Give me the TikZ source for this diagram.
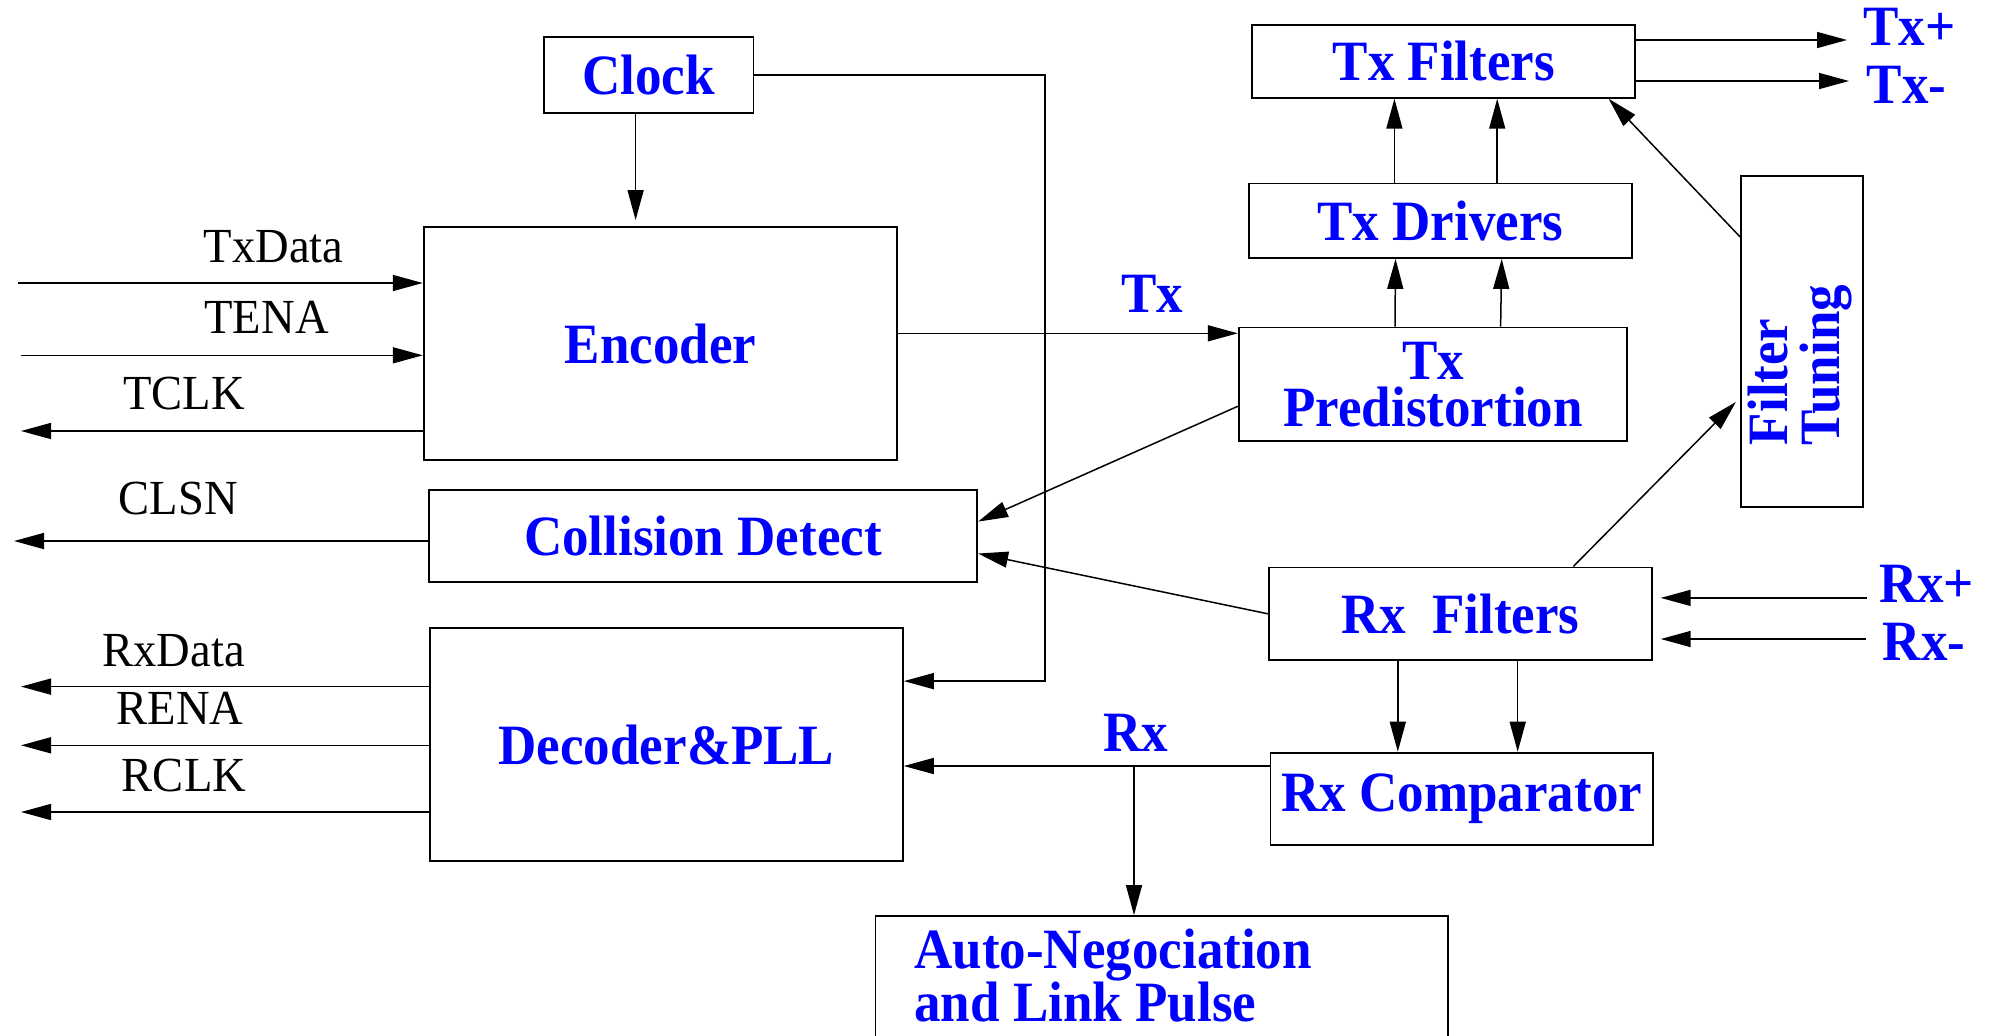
\documentclass[tikz,border=0pt]{standalone}
\usepackage{fontspec}
\setmainfont{Liberation Serif}
\newfontfamily\blkfont[FakeStretch=0.93]{Liberation Serif}
\newfontfamily\sigfont[FakeStretch=0.95]{Liberation Serif}
\usetikzlibrary{arrows.meta}

\tikzset{
  blk/.style={draw=black, line width=0.9pt, inner sep=0pt},
  % a block given by its corners (x1,y1) and (x2,y2), in picture units
  span/.style args={#1,#2,#3,#4}{
    minimum width={(#3-#1)*0.5pt}, minimum height={(#4-#2)*0.5pt},
    at={({(#1+#3)/2},{(#2+#4)/2})}},
  blab/.style={text=blue, font=\blkfont\bfseries\fontsize{28.5}{26}\selectfont, inner sep=0pt},
  slab/.style={text=black, font=\sigfont\fontsize{24.5}{28}\selectfont, inner sep=0pt},
  conn/.style={line width=0.75pt, -{Triangle[length=15pt,width=8pt]}},
}

\begin{document}
\begin{tikzpicture}[x=0.5pt,y=-0.5pt]
\useasboundingbox (0,0) rectangle (1991,1035);
\clip (0,0) rectangle (1991,1035);
\fill[white] (0,0) rectangle (1991,1035);

% ---- blocks ----
\node[blk, blab, span={543.7,37,753.4,113}] (clock) {Clock};
\node[blk, blab, span={423.7,227,897.2,460}] (enc) {Encoder};
\node[blk, blab, span={428.6,489.7,977.2,581.7}] (col) {Collision Detect};
\node[blk, blab, span={430,628.3,902.9,861.2}] (dec) {Decoder\&PLL};
\node[blk, blab, span={1252.3,24.8,1635.3,97.8}] (fil) {Tx Filters};
\node[blk, blab, span={1248.9,183.5,1631.9,258}] (drv) {Tx Drivers};
\node[blk, blab, span={1238.7,327.5,1627.3,440.8}, align=center,
      font=\blkfont\bfseries\fontsize{28.5}{23.5}\selectfont] (pre) {Tx\\Predistortion};
\node[blk, span={1741,176.3,1863.2,506.9}] (ft) {};
\node[blab, rotate=90, align=left] (ftlbl) at (1800,365) {Filter\\Tuning};
\node[blk, blab, span={1268.8,567.4,1651.8,660.2}] (rxf) {Rx\ \ Filters};
\node[blk, blab, span={1270.5,752.6,1652.9,844.6}] (cmp) {Rx Comparator};
\node[blk, span={875.5,916,1447.8,1080}] (auto) {};
\node[blab, align=left, anchor=north west,
      font=\blkfont\bfseries\fontsize{28.5}{26.5}\selectfont] (autolbl) at (914,929)
      {Auto-Negociation\\and Link Pulse};

% ---- signal names ----
\node[slab] (txdl)  at (273.6,247)   {TxData};
\node[slab] (tenal) at (266.6,317.5) {TENA};
\node[slab] (tclkl) at (184,393.7)   {TCLK};
\node[slab] (clsnl) at (178.2,498.9) {CLSN};
\node[slab] (rxdl)  at (173.6,650.7) {RxData};
\node[slab] (renal) at (180,708.5)   {RENA};
\node[slab] (rclkl) at (184,775.4)   {RCLK};
\node[blab] (txl)  at (1152.5,293.6) {Tx};
\node[blab] (rxl)  at (1135.5,733)   {Rx};
\node[blab] (txpl) at (1909.5,26.7)  {Tx+};
\node[blab] (txml) at (1906.5,85)    {Tx-};
\node[blab] (rxpl) at (1926.5,583.5) {Rx+};
\node[blab] (rxml) at (1924,642)     {Rx-};

% ---- free ends of the port lines ----
\coordinate (txdS)  at (17.5,283);
\coordinate (tenaS) at (21,355.3);
\coordinate (tclkE) at (21,431);
\coordinate (clsnE) at (14,541);
\coordinate (rxdE)  at (21,686.6);
\coordinate (renaE) at (21,745.3);
\coordinate (rclkE) at (21,812);
\coordinate (txpE)  at (1847,40);
\coordinate (txmE)  at (1849,81);
\coordinate (rxpS)  at (1867,597.9);
\coordinate (rxmS)  at (1865.5,639);
\coordinate (clkbus) at (1045.2,681.1);
\coordinate (rxtap) at (1134,766);

% ---- connectors ----
\draw[conn, shorten >=3pt] (clock.south -| 635.6,0) -- (enc.north -| 635.6,0);
\draw[conn] (clock.east) -| (clkbus) -- (dec.east |- clkbus);

\draw[conn] (txdS) -- (enc.west |- txdS);
\draw[conn] (tenaS) -- (enc.west |- tenaS);
\draw[conn] (enc.west |- tclkE) -- (tclkE);

\draw[conn] (enc.east |- 0,333.3) -- (pre.west |- 0,333.3);
\draw[conn] (pre.north -| 1395,0) -- (drv.south -| 1395.5,0);
\draw[conn] (pre.north -| 1500.6,0) -- (drv.south -| 1501.7,0);
\draw[conn] (drv.north -| 1394.4,0) -- (fil.south -| 1394.4,0);
\draw[conn] (drv.north -| 1497.2,0) -- (fil.south -| 1497.2,0);
\draw[conn] (fil.east |- txpE) -- (txpE);
\draw[conn] (fil.east |- txmE) -- (txmE);

\draw[conn] (ft.west |- 0,236.9) -- (fil.south -| 1608.6,0);
\draw[conn, shorten >=3pt] (rxf.north -| 1573.3,0) -- (ft.west |- 0,397.7);

\draw[conn] (pre.west |- 0,406.3) -- (col.east |- 0,521.6);
\draw[conn] (rxf.west |- 0,613.8) -- (col.east |- 0,553.5);
\draw[conn] (col.west |- clsnE) -- (clsnE);

\draw[conn] (dec.west |- rxdE) -- (rxdE);
\draw[conn] (dec.west |- renaE) -- (renaE);
\draw[conn] (dec.west |- rclkE) -- (rclkE);

\draw[conn, shorten >=4pt] (rxpS) -- (rxf.east |- rxpS);
\draw[conn, shorten >=4pt] (rxmS) -- (rxf.east |- rxmS);
\draw[conn] (rxf.south -| 1397.8,0) -- (cmp.north -| 1397.8,0);
\draw[conn] (rxf.south -| 1517.7,0) -- (cmp.north -| 1517.7,0);

\draw[conn] (cmp.west |- rxtap) -- (dec.east |- rxtap);
\draw[conn] (rxtap) -- (auto.north -| rxtap);
\end{tikzpicture}
\end{document}
